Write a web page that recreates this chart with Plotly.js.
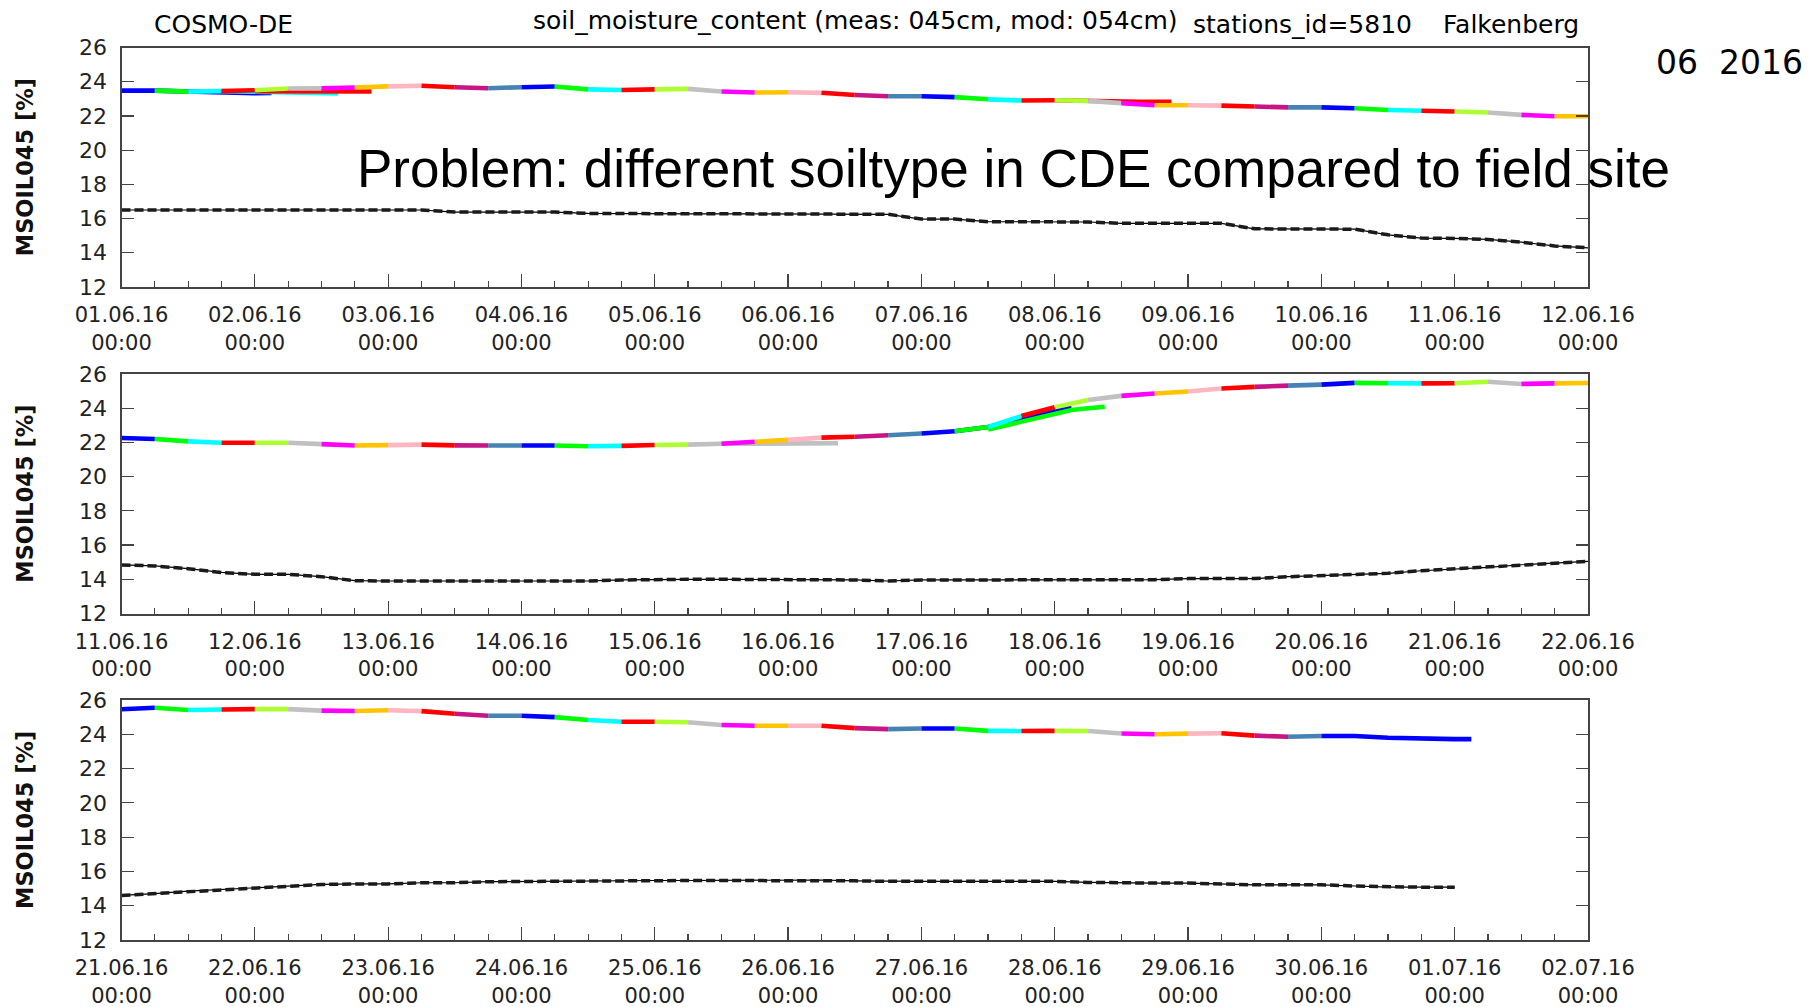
<!DOCTYPE html>
<html>
<head>
<meta charset="utf-8">
<script src="https://cdn.plot.ly/plotly-3.0.1.min.js"></script>
<style>
  html, body { margin: 0; padding: 0; background: #fff; }
  #chart { width: 1815px; height: 1007px; }
</style>
</head>
<body>
<div id="chart"></div>
<script>
// ---- Panels: each shows 11 days ----
const panelStarts = ['2016-06-01 00:00', '2016-06-11 00:00', '2016-06-21 00:00'];
const panelEnds   = ['2016-06-12 00:00', '2016-06-22 00:00', '2016-07-02 00:00'];

// Colour of each forecast run, cycling from the first run of a panel
const runColors = ['#0000ff', '#00ff00', '#00ffff', '#ff0000', '#adff2f', '#c0c0c0',
                   '#ff00ff', '#ffc400', '#ffb6c1', '#ff0000', '#c71585', '#4682b4'];

// 6-hourly series starting at this time
const seriesStart = '2016-06-01 00:00';
const stepHours = 6;

// COSMO-DE soil moisture at 054 cm [%], 6-hourly, 01.06.16 00:00 .. 01.07.16 00:00
const modelValues = [
  23.48, 23.48, 23.42, 23.45,  23.50, 23.60, 23.61, 23.66,  23.73, 23.76, 23.68, 23.62,
  23.68, 23.72, 23.55, 23.52,  23.55, 23.58, 23.43, 23.37,  23.38, 23.35, 23.22, 23.15,
  23.15, 23.10, 22.97, 22.90,  22.92, 22.88, 22.75, 22.62,  22.62, 22.60, 22.55, 22.50,
  22.50, 22.45, 22.35, 22.30,  22.26, 22.20, 22.06, 21.98,  21.98, 21.98, 21.90, 21.82,
  21.84, 21.87, 21.83, 21.82,  21.82, 21.82, 21.78, 21.80,  21.85, 21.87, 21.92, 22.04,
  22.15, 22.28, 22.33, 22.42,  22.52, 22.65, 22.90, 23.54,  24.06, 24.48, 24.72, 24.86,
  24.98, 25.15, 25.25, 25.32,  25.38, 25.48, 25.46, 25.45,  25.46, 25.55, 25.42, 25.45,
  25.47, 25.47, 25.38, 25.36,  25.40, 25.35, 25.20, 25.08,  25.08, 25.00, 24.83, 24.73,
  24.73, 24.70, 24.54, 24.50,  24.50, 24.50, 24.36, 24.30,  24.34, 24.34, 24.20, 24.19,
  24.20, 24.19, 24.05, 24.00,  24.04, 24.06, 23.92, 23.86,  23.90, 23.90, 23.80, 23.74,
  23.72
];
// The last run reaches three hours past the series
const modelEndTime = '2016-07-01 03:00';
const modelEndValue = 23.72;
const lastRunStart = '2016-06-30 00:00';

// Measured soil moisture at 045 cm [%], 6-hourly, 01.06.16 00:00 .. 01.07.16 00:00
const measuredValues = [
  16.50, 16.50, 16.50, 16.50,  16.50, 16.50, 16.50, 16.50,  16.50, 16.50, 16.38, 16.38,
  16.38, 16.38, 16.30, 16.28,  16.28, 16.28, 16.28, 16.28,  16.28, 16.26, 16.25, 16.25,
  15.97, 15.97, 15.82, 15.81,  15.81, 15.80, 15.72, 15.72,  15.72, 15.72, 15.40, 15.39,
  15.39, 15.38, 15.05, 14.86,  14.84, 14.78, 14.62, 14.40,  14.29, 14.29, 14.15, 13.92,
  13.90, 13.90, 13.90, 13.90,  13.90, 13.90, 13.90, 13.96,  14.00, 14.00, 14.00, 14.00,
  13.96, 13.96, 13.96, 13.90,  13.96, 13.96, 13.96, 13.96,  13.96, 13.96, 13.96, 13.98,
  14.04, 14.04, 14.04, 14.15,  14.22, 14.28, 14.35, 14.50,  14.60, 14.70, 14.85, 14.95,
  15.05, 15.15, 15.24, 15.27,  15.27, 15.34, 15.34, 15.40,  15.42, 15.42, 15.42, 15.46,
  15.47, 15.47, 15.47, 15.47,  15.48, 15.50, 15.45, 15.42,  15.42, 15.42, 15.42, 15.42,
  15.42, 15.36, 15.32, 15.32,  15.32, 15.25, 15.22, 15.22,  15.22, 15.15, 15.09, 15.08,
  15.08
];

// Later parts of single forecast runs (3-hourly), where they leave the newer runs
const tailStepHours = 3;
const tailRun0106_00 = [23.48, 23.45, 23.40, 23.36, 23.33, 23.33, 23.33, 23.34];
const tailRun0106_12 = [23.45, 23.44, 23.42, 23.40, 23.38, 23.35, 23.33, 23.32];
const tailRun0106_18 = [23.45, 23.44, 23.43, 23.42, 23.42, 23.42, 23.42, 23.43];
const tailRun0706_18 = [22.92, 22.89, 22.87, 22.85, 22.84, 22.83, 22.83, 22.82];
const tailRun1506_06 = [21.92, 21.93, 21.93, 21.94, 21.94, 21.95, 21.95, 21.95];
const tailRun1706_00 = [22.65, 22.75, 22.90, 23.10, 23.35, 23.60, 23.85, 24.07];
const tailRun1706_06 = [22.75, 22.98, 23.25, 23.50, 23.73, 23.90, 24.00, 24.09];
const runTails = [
  {panel: 0, run: '2016-06-01 00:00', values: tailRun0106_00},
  {panel: 0, run: '2016-06-01 12:00', values: tailRun0106_12},
  {panel: 0, run: '2016-06-01 18:00', values: tailRun0106_18},
  {panel: 0, run: '2016-06-07 18:00', values: tailRun0706_18},
  {panel: 1, run: '2016-06-15 06:00', values: tailRun1506_06},
  {panel: 1, run: '2016-06-17 00:00', values: tailRun1706_00},
  {panel: 1, run: '2016-06-17 06:00', values: tailRun1706_06}
];

// ---- time helpers ----
const HOUR = 3600 * 1000;
function toMs(s) {
  const m = s.match(/(\d+)-(\d+)-(\d+) (\d+):(\d+)/);
  return Date.UTC(+m[1], +m[2] - 1, +m[3], +m[4], +m[5]);
}
function toStr(ms) {
  const d = new Date(ms);
  const p = n => String(n).padStart(2, '0');
  return d.getUTCFullYear() + '-' + p(d.getUTCMonth() + 1) + '-' + p(d.getUTCDate()) +
         ' ' + p(d.getUTCHours()) + ':' + p(d.getUTCMinutes()) + ':00';
}

const t0 = toMs(seriesStart);
const modelT = modelValues.map((_, i) => t0 + i * stepHours * HOUR).concat([toMs(modelEndTime)]);
const modelV = modelValues.concat([modelEndValue]);
const measT = measuredValues.map((_, i) => t0 + i * stepHours * HOUR);

const runWidth = 4.6;
const traces = [];
const lastRun = toMs(lastRunStart);

panelStarts.forEach((ps, p) => {
  const xa = p === 0 ? 'x' : 'x' + (p + 1);
  const ya = p === 0 ? 'y' : 'y' + (p + 1);
  const P0 = toMs(ps), P1 = toMs(panelEnds[p]);

  // tails of older runs lie underneath the newer runs
  runTails.filter(r => r.panel === p).forEach(r => {
    const rs = toMs(r.run);
    const k = Math.round((rs - P0) / (stepHours * HOUR));
    const from = rs + stepHours * HOUR;
    traces.push({
      type: 'scatter', mode: 'lines', xaxis: xa, yaxis: ya, hoverinfo: 'skip',
      x: r.values.map((_, i) => toStr(from + i * tailStepHours * HOUR)),
      y: r.values,
      line: {color: runColors[k % runColors.length], width: runWidth},
      showlegend: false
    });
  });

  // measured series: thin line plus short dashes
  const mx = [], my = [];
  measT.forEach((t, i) => { if (t >= P0 && t <= P1) { mx.push(toStr(t)); my.push(measuredValues[i]); } });
  traces.push({type: 'scatter', mode: 'lines', xaxis: xa, yaxis: ya, x: mx, y: my,
               line: {color: '#000', width: 1.2}, showlegend: false, hoverinfo: 'skip'});
  traces.push({type: 'scatter', mode: 'lines', xaxis: xa, yaxis: ya, x: mx, y: my,
               line: {color: '#1a1a1a', width: 3.5, dash: '9px,4px'}, showlegend: false});

  // forecast runs, one every 6 hours, each newer run drawn on top
  for (let k = 0; ; k++) {
    const rs = P0 + k * stepHours * HOUR;
    if (rs >= P1 || rs > lastRun) break;
    const re = rs === lastRun ? Infinity : rs + stepHours * HOUR;
    const sx = [], sy = [];
    modelT.forEach((t, i) => { if (t >= rs && t <= re) { sx.push(toStr(t)); sy.push(modelV[i]); } });
    if (sx.length < 2) continue;
    traces.push({
      type: 'scatter', mode: 'lines', xaxis: xa, yaxis: ya, x: sx, y: sy,
      line: {color: runColors[k % runColors.length], width: runWidth},
      showlegend: false
    });
  }
});

// ---- layout ----
const W = 1815, H = 1007;
const xDom = [121.5 / W, 1588 / W];
const panelPix = [[47.5, 287], [374, 613.5], [700, 940]];
const fontFamily = 'DejaVu Sans, sans-serif';
const axisColor = '#444';

const layout = {
  width: W, height: H,
  margin: {l: 0, r: 0, t: 0, b: 0},
  paper_bgcolor: '#fff', plot_bgcolor: '#fff',
  showlegend: false,
  font: {family: fontFamily, size: 22, color: '#111'},
  annotations: []
};

panelPix.forEach((pp, p) => {
  const s = p === 0 ? '' : String(p + 1);
  layout['xaxis' + s] = {
    type: 'date',
    domain: xDom,
    anchor: 'y' + s,
    range: [panelStarts[p], panelEnds[p]],
    tick0: panelStarts[p], dtick: 24 * HOUR,
    tickformat: '%d.%m.%y<br>%H:%M',
    ticks: 'inside', ticklen: 13, tickwidth: 1.2, tickcolor: axisColor,
    minor: {dtick: 6 * HOUR, ticks: 'inside', ticklen: 6, tickwidth: 1.2, tickcolor: axisColor},
    showline: true, linecolor: axisColor, linewidth: 2, mirror: true,
    showgrid: false, zeroline: false,
    ticklabelstandoff: 8,
    tickfont: {family: fontFamily, size: 21, color: '#222'}
  };
  layout['yaxis' + s] = {
    domain: [1 - pp[1] / H, 1 - pp[0] / H],
    anchor: 'x' + s,
    range: [12, 26], tick0: 12, dtick: 2,
    ticks: 'inside', ticklen: 12, tickwidth: 1.2, tickcolor: axisColor,
    showline: true, linecolor: axisColor, linewidth: 2, mirror: 'ticks',
    showgrid: false, zeroline: false,
    ticklabelstandoff: 8,
    tickfont: {family: fontFamily, size: 22, color: '#222'}
  };
  layout.annotations.push({
    text: '<b>MSOIL045 [%]</b>', textangle: -90,
    xref: 'paper', yref: 'paper', x: 25 / W, y: 1 - (pp[0] + pp[1]) / 2 / H,
    xanchor: 'center', yanchor: 'middle', showarrow: false,
    font: {family: fontFamily, size: 22.5, color: '#111'}
  });
});

function label(text, xPix, yPix, size, extra) {
  return Object.assign({
    text: text, xref: 'paper', yref: 'paper', x: xPix / W, y: 1 - yPix / H,
    xanchor: 'center', yanchor: 'middle', showarrow: false,
    font: {family: fontFamily, size: size, color: '#000'}
  }, extra || {});
}
layout.annotations.push(label('COSMO-DE', 223, 24, 25));
layout.annotations.push(label('soil_moisture_content (meas: 045cm, mod: 054cm)', 855, 20, 25));
layout.annotations.push(label('stations_id=5810', 1302, 25, 25));
layout.annotations.push(label('Falkenberg', 1511, 25, 25));
layout.annotations.push(label('06&nbsp;&nbsp;2016', 1729, 62, 33));
layout.annotations.push(label('Problem: different soiltype in CDE compared to field site', 355, 168, 53,
  {xanchor: 'left', font: {family: 'Liberation Sans, Arial, sans-serif', size: 53, color: '#000'}}));

Plotly.newPlot('chart', traces, layout, {staticPlot: true, displayModeBar: false});
</script>
</body>
</html>
